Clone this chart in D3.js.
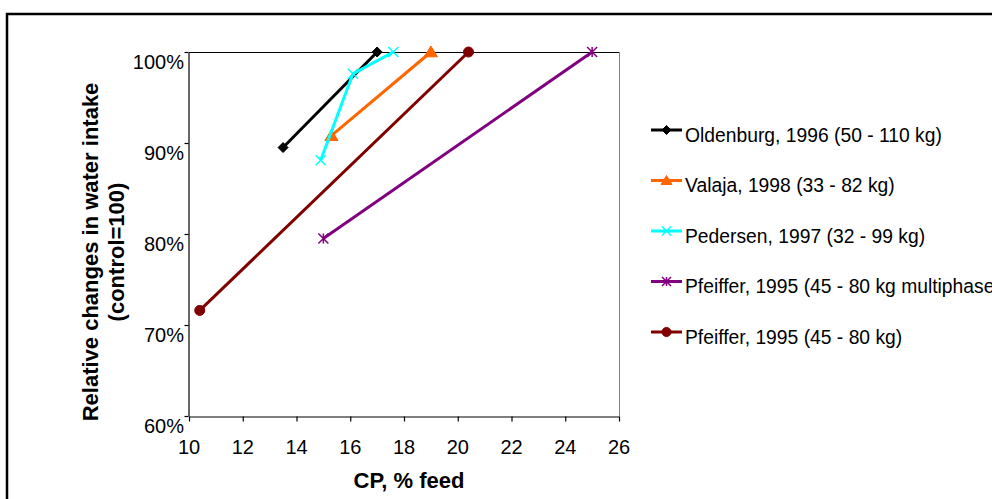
<!DOCTYPE html>
<head>
  <meta charset="utf-8">
  <script src="https://d3js.org/d3.v7.min.js"></script>
  <style>
    body { margin:0; background:white; }
    .tickText { font-family: Arial, 'Liberation Sans', sans-serif; font-size: 20px; fill: black; }
    .axisTitle { font-family: Arial, 'Liberation Sans', sans-serif; font-size: 22px; font-weight: bold; fill: black; }
    .legendText { font-family: Arial, 'Liberation Sans', sans-serif; font-size: 19.3px; fill: black; }
  </style>
</head>
<body>
<script>
  // series data (x = CP % feed, y = % of control)
  const seriesNames = [
    'Oldenburg, 1996 (50 - 110 kg)',
    'Valaja, 1998 (33 - 82 kg)',
    'Pedersen, 1997 (32 - 99 kg)',
    'Pfeiffer, 1995 (45 - 80 kg multiphase)',
    'Pfeiffer, 1995 (45 - 80 kg)'
  ];
  const oldenburgX = [13.5, 17.0];
  const oldenburgY = [89.5, 100];
  const valajaX = [15.3, 19.0];
  const valajaY = [90.8, 100];
  const pedersenX = [14.9, 16.1, 17.6];
  const pedersenY = [88.1, 97.6, 100];
  const pfeifferMultiX = [15.0, 25.0];
  const pfeifferMultiY = [79.5, 100];
  const pfeifferX = [10.4, 20.4];
  const pfeifferY = [71.6, 100];

  const xTicks = [10, 12, 14, 16, 18, 20, 22, 24, 26];
  const yTicks = [60, 70, 80, 90, 100];

  const colors = ['#000000', '#FF6600', '#00FFFF', '#800080', '#800000'];
  const markers = ['diamond', 'triangle', 'cross', 'star', 'circle'];

  const seriesX = [oldenburgX, valajaX, pedersenX, pfeifferMultiX, pfeifferX];
  const seriesY = [oldenburgY, valajaY, pedersenY, pfeifferMultiY, pfeifferY];
  const series = seriesNames.map((name, i) => ({
    name: name,
    color: colors[i],
    marker: markers[i],
    points: seriesX[i].map((x, j) => ({x: x, y: seriesY[i][j]}))
  }));

  const W = 992, H = 499;
  const plot = {left: 189, right: 619, top: 52, bottom: 416};

  const svg = d3.select('body').append('svg')
    .attr('width', W).attr('height', H);

  // outer chart frame (runs off the right and bottom)
  svg.append('rect')
    .attr('x', 7).attr('y', 14)
    .attr('width', 1000).attr('height', 600)
    .attr('fill', 'white')
    .attr('stroke', 'black')
    .attr('stroke-width', 2.5);

  const x = d3.scaleLinear().domain([10, 26]).range([plot.left, plot.right]);
  const y = d3.scaleLinear().domain([60, 100]).range([plot.bottom, plot.top]);

  // plot area border: top dark, right grey
  svg.append('line')
    .attr('x1', plot.left).attr('x2', plot.right)
    .attr('y1', plot.top + 0.5).attr('y2', plot.top + 0.5)
    .attr('stroke', '#000').attr('stroke-width', 1);
  svg.append('line')
    .attr('x1', plot.right + 0.5).attr('x2', plot.right + 0.5)
    .attr('y1', plot.top).attr('y2', plot.bottom)
    .attr('stroke', '#808080').attr('stroke-width', 1);

  // axes
  const xAxis = svg.append('g')
    .attr('transform', `translate(0, ${plot.bottom + 0.5})`)
    .call(d3.axisBottom(x).tickValues(xTicks).tickSizeInner(5).tickSizeOuter(0).tickFormat(''));
  const yAxis = svg.append('g')
    .attr('transform', `translate(${plot.left - 0.5}, 0)`)
    .call(d3.axisLeft(y).tickValues(yTicks).tickSizeInner(4).tickSizeOuter(0).tickFormat(''));
  [xAxis, yAxis].forEach(a => {
    a.selectAll('path, line').attr('stroke', 'black').attr('stroke-width', 1.2);
  });

  // tick labels (offset like the original)
  svg.append('g').selectAll('text')
    .data(xTicks).enter().append('text')
    .classed('tickText', true)
    .attr('x', d => x(d))
    .attr('y', plot.bottom + 38)
    .attr('text-anchor', 'middle')
    .text(d => d);

  svg.append('g').selectAll('text')
    .data(yTicks).enter().append('text')
    .classed('tickText', true)
    .attr('x', plot.left - 5)
    .attr('y', d => y(d) + 16.5)
    .attr('text-anchor', 'end')
    .text(d => d + '%');

  // axis titles
  svg.append('text')
    .classed('axisTitle', true)
    .attr('x', 409).attr('y', 488)
    .attr('text-anchor', 'middle')
    .text('CP, % feed');

  const yTitle = svg.append('text')
    .classed('axisTitle', true)
    .attr('transform', 'translate(98, 252) rotate(-90)')
    .attr('text-anchor', 'middle');
  yTitle.append('tspan').attr('x', 0).attr('dy', 0).text('Relative changes in water intake');
  yTitle.append('tspan').attr('x', 0).attr('dy', 26).text('(control=100)');

  // marker paths
  function markerPath(type, s) {
    if (type === 'diamond') return `M0,${-s}L${s},0L0,${s}L${-s},0Z`;
    if (type === 'triangle') return `M0,${-s}L${s * 1.1},${s * 0.8}L${-s * 1.1},${s * 0.8}Z`;
    if (type === 'circle') return d3.symbol().type(d3.symbolCircle).size(Math.PI * s * s)();
    if (type === 'cross') return `M${-s},${-s}L${s},${s}M${s},${-s}L${-s},${s}`;
    // star: x plus vertical bar
    return `M${-s},${-s}L${s},${s}M${s},${-s}L${-s},${s}M0,${-s}L0,${s}`;
  }
  function drawMarker(g, d, type, s) {
    const open = type === 'cross' || type === 'star';
    g.append('path')
      .attr('d', markerPath(type, s))
      .attr('fill', open ? 'none' : d.color)
      .attr('stroke', d.color)
      .attr('stroke-width', open ? 1.5 : 1);
  }

  const line = d3.line().x(p => x(p.x)).y(p => y(p.y));
  const sizes = {diamond: 5, triangle: 6, cross: 5, star: 5, circle: 5};

  series.forEach(s => {
    const g = svg.append('g');
    g.append('path')
      .datum(s.points)
      .attr('d', line)
      .attr('fill', 'none')
      .attr('stroke', s.color)
      .attr('stroke-width', 3);
    s.points.forEach(p => {
      const m = g.append('g').attr('transform', `translate(${x(p.x)}, ${y(p.y)})`);
      drawMarker(m, s, s.marker, sizes[s.marker]);
    });
  });

  // legend
  const legend = svg.append('g').attr('transform', 'translate(651, 130)');
  const rows = legend.selectAll('.legendKey')
    .data(series).enter().append('g')
    .classed('legendKey', true)
    .attr('transform', (d, i) => `translate(0, ${i * 50.5})`);
  rows.append('line')
    .attr('x1', 0).attr('x2', 31)
    .attr('stroke', d => d.color)
    .attr('stroke-width', 3);
  rows.each(function(d) {
    const m = d3.select(this).append('g').attr('transform', 'translate(15.5, 0)');
    drawMarker(m, d, d.marker, d.marker === 'triangle' ? 5 : 4.5);
  });
  rows.append('text')
    .classed('legendText', true)
    .attr('x', 34)
    .attr('y', 11.5)
    .text(d => d.name);
</script>
</body>
